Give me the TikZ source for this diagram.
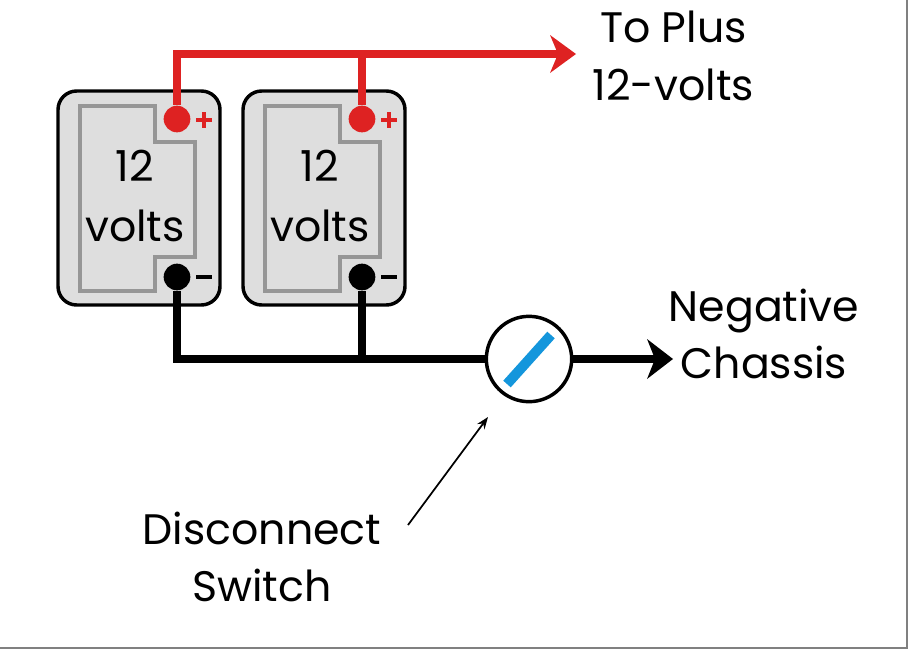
\documentclass[tikz,border=0pt]{standalone}
\usepackage{fontspec}
\setmainfont{Poppins}
\usetikzlibrary{arrows.meta, positioning}
\definecolor{wirered}{RGB}{222,34,34}
\definecolor{casegray}{RGB}{222,222,222}
\definecolor{innergray}{RGB}{150,150,150}
\definecolor{switchblue}{RGB}{20,150,220}
\tikzset {
    battery/.style = {
        draw,
        fill=casegray,
        line width=2.6pt,
        rounded corners=14pt
    },
    inner/.style = {
        draw=innergray,
        line width=2.6pt
    },
    terminal/.style args = {#1}{
        circle,
        fill=#1,
        inner sep=0pt,
        minimum size=20pt
    },
    plus wire/.style = {
        draw=wirered,
        line width=6.5pt
    },
    minus wire/.style = {
        draw=black,
        line width=6.5pt
    },
    label/.style = {
        font=\fontsize{32}{43}\selectfont,
        align=center
    }
}
\begin{document}
\begin{tikzpicture}[x=0.75pt, y=-0.75pt]
        \useasboundingbox (0,0) rectangle (909,650);
        \draw [gray, line width=1.2pt] (907,0) -- (907,648) -- (0,648);

        % Batteries : case, inner outline, terminals
        \foreach \dx/\name in {0/one, 185/two} {
            \begin{scope}[xshift=\dx*0.75pt]
                \draw [battery] (58,91) rectangle (220,305);
                \draw [inner] (80,106) -- (155,106) -- (155,142) -- (195,142)
                    -- (195,257) -- (155,257) -- (155,291) -- (80,291) -- cycle;
                \node [label] at (135,166) {12};
                \node [label] at (135,226) {volts};
                \node [terminal={wirered}] (pos\name) at (177,119) {};
                \node [terminal={black}]   (neg\name) at (177,277) {};
                \draw [wirered, line width=3.6pt] (196,120) -- (212,120) (204,112) -- (204,128);
                \draw [line width=3.6pt] (196,277) -- (212,277);
            \end{scope}
        }

        % Plus side
        \coordinate (plustop)  at (177,54);
        \coordinate (plustwo)  at (362,54);
        \coordinate (plusend)  at (560,54);
        \node [label, anchor=west] (plus) at (588,56) {To Plus\\12-volts};
        \draw [plus wire] (posone) -- (plustop) -- (plusend);
        \draw [plus wire] (postwo) -- (plustwo);
        \fill [wirered] (550,35) -- (576,54) -- (550,73) -- (558,54) -- cycle;

        % Minus side with switch
        \node [circle, draw, line width=2.6pt, fill=white, minimum size=64pt] (switch) at (529,359) {};
        \coordinate (minusbot) at (177,359);
        \coordinate (minustwo) at (362,359);
        \node [label, anchor=west] (chassis) at (664,334) {Negative\\Chassis};
        \draw [minus wire] (negone) -- (minusbot) -- (switch);
        \draw [minus wire] (negtwo) -- (minustwo);
        \draw [minus wire] (switch) -- (660,359);
        \fill (647,339) -- (673,359) -- (647,379) -- (655,359) -- cycle;
        \draw [switchblue, line width=7.5pt] (507,384) -- (551,335);

        % Label with pointer
        \node [label] (disconnect) at (262,557) {Disconnect\\Switch};
        \draw [-{Stealth[length=9pt]}, line width=1.3pt] (408,525) -- (488,417);
\end{tikzpicture}
\end{document}
